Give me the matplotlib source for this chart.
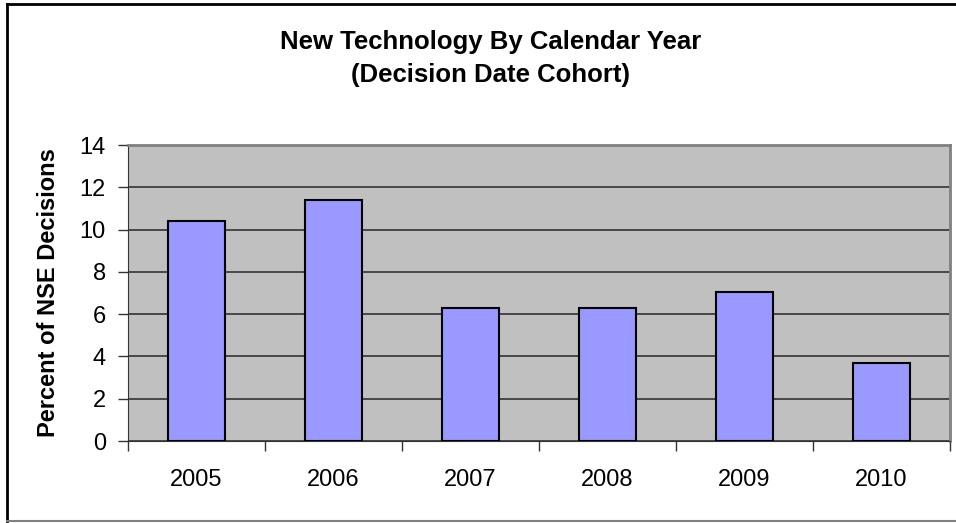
import matplotlib
matplotlib.use('Agg')
import matplotlib.pyplot as plt
from matplotlib.lines import Line2D
import numpy as np

years = ['2005', '2006', '2007', '2008', '2009', '2010']
percent_nse = [10.4, 11.4, 6.3, 6.3, 7.05, 3.7]
y_ticks = [0, 2, 4, 6, 8, 10, 12, 14]

plt.rcParams['font.family'] = ['Liberation Sans', 'DejaVu Sans']

W, H = 956, 523
fig = plt.figure(figsize=(W / 100, H / 100), dpi=100)

# outer chart frame (right side runs off the image)
fx = lambda px: px / W
fy = lambda py: 1 - py / H
fig.lines.append(Line2D([fx(7), fx(7)], [fy(3.5), fy(521)], transform=fig.transFigure,
                        color='black', linewidth=2))
fig.lines.append(Line2D([fx(7), 1.0], [fy(3.5), fy(3.5)], transform=fig.transFigure,
                        color='black', linewidth=2))
fig.lines.append(Line2D([fx(7), 1.0], [fy(521), fy(521)], transform=fig.transFigure,
                        color='#808080', linewidth=1.5))

left, right, top, bottom = 128, 950, 145, 441
ax = fig.add_axes([left / W, (H - bottom) / H, (right - left) / W, (bottom - top) / H])
ax.set_facecolor('#c0c0c0')

x = np.arange(len(years))
ax.bar(x, percent_nse, width=0.41, color='#9999ff', edgecolor='black', linewidth=1.5, zorder=3)

ax.set_xlim(-0.5, len(years) - 0.5)
ax.set_ylim(0, 14)
ax.set_yticks(y_ticks)
ax.set_yticklabels([str(t) for t in y_ticks], fontsize=17)
ax.yaxis.grid(True, color='#333333', linewidth=1.2, zorder=1)
ax.set_axisbelow(True)

ax.set_xticks(x)
ax.set_xticklabels(years, fontsize=17)
ax.set_xticks(np.arange(-0.5, len(years)), minor=True)
ax.tick_params(axis='x', which='major', length=0, pad=20)
ax.tick_params(axis='x', which='minor', length=7, width=1, color='#333333')
ax.tick_params(axis='y', length=7, width=1, color='#333333', pad=9)

for s in ['top', 'right']:
    ax.spines[s].set_color('#808080')
    ax.spines[s].set_linewidth(2)
ax.spines['left'].set_color('#333333')
ax.spines['bottom'].set_color('#333333')

ax.set_ylabel('Percent of NSE Decisions', fontsize=17, fontweight='bold', labelpad=14)

fig.text(491 / W, 1 - 42 / H, 'New Technology By Calendar Year', ha='center', va='center',
         fontsize=18.5, fontweight='bold')
fig.text(491 / W, 1 - 75 / H, '(Decision Date Cohort)', ha='center', va='center',
         fontsize=18.5, fontweight='bold')

fig.savefig('out.png', dpi=100)
